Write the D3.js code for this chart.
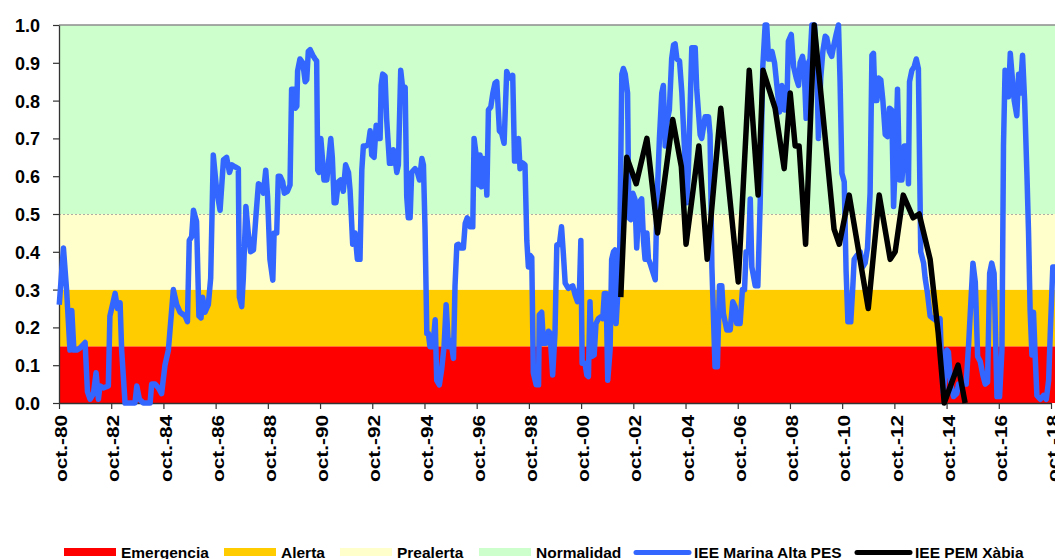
<!DOCTYPE html>
<html>
<head>
<meta charset="utf-8">
<script src="https://cdn.jsdelivr.net/npm/d3@7"></script>
<style>
  body { margin: 0; background: #fff; }
  svg text { font-family: "Liberation Sans", Arial, sans-serif; font-weight: bold; fill: #000; }
</style>
</head>
<body>
<svg id="chart" width="1055" height="559"></svg>
<script>
// ---- data -------------------------------------------------------------
const xTickLabels = ["oct.-80","oct.-82","oct.-84","oct.-86","oct.-88","oct.-90","oct.-92",
  "oct.-94","oct.-96","oct.-98","oct.-00","oct.-02","oct.-04","oct.-06","oct.-08","oct.-10",
  "oct.-12","oct.-14","oct.-16","oct.-18"];
const yTickLabels = ["0.0","0.1","0.2","0.3","0.4","0.5","0.6","0.7","0.8","0.9","1.0"];

const bandNames = ["Emergencia", "Alerta", "Prealerta", "Normalidad"];
const bandFrom = [0, 0.15, 0.3, 0.5];
const bandTo = [0.15, 0.3, 0.5, 1.0];

const seriesNames = ["IEE Marina Alta PES", "IEE PEM Xàbia"];

// [decimal year, index]
const marinaAltaPES = [
  [1980.76,.26],[1980.92,.41],[1981.04,.30],[1981.17,.14],[1981.24,.245],[1981.32,.14],[1981.43,.14],
  [1981.55,.145],[1981.75,.16],[1981.84,.03],[1981.94,.01],[1982.07,.025],[1982.17,.08],[1982.26,.01],
  [1982.32,.045],[1982.45,.04],[1982.64,.045],[1982.70,.23],[1982.90,.29],[1982.99,.25],[1983.09,.265],
  [1983.15,.14],[1983.28,0],[1983.47,0],[1983.66,0],[1983.73,.045],[1983.83,.01],[1983.98,0],[1984.24,0],
  [1984.30,.05],[1984.43,.05],[1984.56,.04],[1984.68,.025],[1984.81,.10],[1984.94,.14],[1985.13,.30],
  [1985.26,.26],[1985.39,.24],[1985.58,.23],[1985.67,.215],[1985.74,.43],[1985.83,.44],[1985.90,.51],
  [1986.02,.48],[1986.11,.23],[1986.19,.225],[1986.25,.28],[1986.34,.24],[1986.47,.26],[1986.56,.33],
  [1986.66,.656],[1986.79,.563],[1986.92,.51],[1987.05,.643],[1987.17,.65],[1987.28,.61],[1987.37,.63],
  [1987.49,.625],[1987.62,.62],[1987.66,.28],[1987.75,.255],[1987.81,.33],[1987.91,.52],[1988.00,.45],
  [1988.09,.40],[1988.20,.405],[1988.30,.50],[1988.39,.58],[1988.49,.575],[1988.58,.555],[1988.67,.616],
  [1988.74,.546],[1988.83,.38],[1988.94,.325],[1988.99,.45],[1989.09,.45],[1989.15,.60],[1989.22,.60],
  [1989.32,.585],[1989.38,.555],[1989.50,.56],[1989.60,.577],[1989.66,.83],[1989.75,.83],[1989.80,.78],
  [1989.86,.785],[1989.89,.878],[1989.98,.91],[1990.09,.90],[1990.18,.85],[1990.24,.855],[1990.30,.93],
  [1990.37,.935],[1990.47,.92],[1990.56,.91],[1990.62,.905],[1990.66,.616],[1990.71,.61],[1990.78,.70],
  [1990.85,.64],[1990.90,.59],[1991.01,.59],[1991.07,.634],[1991.16,.70],[1991.22,.65],[1991.29,.53],
  [1991.36,.53],[1991.45,.585],[1991.54,.59],[1991.64,.56],[1991.73,.63],[1991.84,.61],[1991.90,.563],
  [1992.00,.42],[1992.09,.45],[1992.18,.38],[1992.28,.38],[1992.35,.616],[1992.41,.68],[1992.51,.68],
  [1992.60,.685],[1992.67,.72],[1992.73,.656],[1992.82,.65],[1992.90,.735],[1992.96,.70],[1993.05,.70],
  [1993.09,.84],[1993.15,.87],[1993.24,.865],[1993.30,.753],[1993.41,.634],[1993.50,.634],[1993.56,.67],
  [1993.62,.65],[1993.69,.61],[1993.75,.63],[1993.84,.88],[1993.92,.83],[1994.01,.835],[1994.07,.546],
  [1994.13,.49],[1994.20,.49],[1994.26,.61],[1994.39,.62],[1994.48,.61],[1994.56,.59],[1994.65,.647],
  [1994.71,.63],[1994.77,.466],[1994.84,.184],[1994.90,.184],[1994.96,.149],[1995.07,.149],[1995.16,.22],
  [1995.22,.06],[1995.32,.048],[1995.41,.09],[1995.50,.149],[1995.58,.26],[1995.67,.149],[1995.76,.166],
  [1995.86,.118],[1995.92,.31],[1995.99,.418],[1996.05,.42],[1996.14,.41],[1996.24,.41],[1996.31,.475],
  [1996.39,.49],[1996.50,.466],[1996.60,.466],[1996.65,.70],[1996.73,.656],[1996.82,.577],[1996.88,.656],
  [1996.94,.572],[1997.01,.647],[1997.07,.643],[1997.14,.55],[1997.20,.775],[1997.29,.783],[1997.37,.82],
  [1997.45,.846],[1997.52,.85],[1997.62,.72],[1997.71,.713],[1997.80,.687],[1997.90,.877],[1998.00,.86],
  [1998.07,.86],[1998.13,.867],[1998.20,.64],[1998.29,.64],[1998.35,.70],[1998.41,.62],[1998.51,.635],
  [1998.60,.63],[1998.67,.43],[1998.73,.36],[1998.80,.39],[1998.86,.385],[1998.92,.08],[1999.03,.048],
  [1999.12,.048],[1999.15,.233],[1999.24,.24],[1999.31,.158],[1999.41,.158],[1999.50,.19],[1999.56,.185],
  [1999.66,.074],[1999.75,.185],[1999.82,.418],[1999.92,.42],[2000.00,.466],[2000.07,.395],[2000.14,.317],
  [2000.26,.303],[2000.35,.307],[2000.43,.31],[2000.52,.286],[2000.61,.268],[2000.69,.307],[2000.74,.43],
  [2000.79,.105],[2000.90,.105],[2000.97,.074],[2001.03,.07],[2001.09,.268],[2001.16,.123],[2001.25,.127],
  [2001.32,.21],[2001.41,.223],[2001.50,.228],[2001.58,.223],[2001.64,.29],[2001.71,.29],[2001.77,.06],
  [2001.86,.14],[2001.92,.38],[2001.99,.40],[2002.05,.405],[2002.09,.21],[2002.14,.27],[2002.22,.35],
  [2002.31,.87],[2002.37,.885],[2002.44,.87],[2002.53,.82],[2002.58,.49],[2002.65,.485],[2002.73,.555],
  [2002.81,.54],[2002.88,.41],[2002.97,.53],[2003.07,.54],[2003.14,.43],[2003.20,.38],[2003.27,.45],
  [2003.33,.38],[2003.39,.37],[2003.46,.355],[2003.59,.326],[2003.65,.52],[2003.75,.70],[2003.84,.82],
  [2003.90,.84],[2003.97,.68],[2004.03,.74],[2004.13,.775],[2004.22,.912],[2004.29,.947],[2004.35,.95],
  [2004.42,.91],[2004.52,.905],[2004.61,.82],[2004.70,.687],[2004.80,.53],[2004.86,.62],[2004.99,.94],
  [2005.12,.94],[2005.18,.83],[2005.31,.71],[2005.37,.70],[2005.50,.757],[2005.63,.757],[2005.69,.71],
  [2005.76,.36],[2005.88,.096],[2005.97,.096],[2006.05,.31],[2006.14,.31],[2006.20,.237],[2006.33,.193],
  [2006.46,.193],[2006.56,.268],[2006.65,.255],[2006.71,.21],[2006.84,.21],[2006.93,.30],[2007.01,.30],
  [2007.07,.40],[2007.16,.40],[2007.23,.54],[2007.29,.36],[2007.42,.31],[2007.52,.31],[2007.61,.53],
  [2007.71,.89],[2007.80,1.0],[2007.86,1.0],[2007.93,.91],[2007.99,.91],[2008.06,.93],[2008.16,.90],
  [2008.25,.84],[2008.35,.77],[2008.44,.84],[2008.54,.775],[2008.63,.78],[2008.69,.957],[2008.80,.975],
  [2008.89,.89],[2008.99,.86],[2009.08,.84],[2009.14,.90],[2009.23,.917],[2009.29,.89],[2009.37,.753],
  [2009.46,.90],[2009.52,.91],[2009.59,1.0],[2009.69,1.0],[2009.78,.89],[2009.84,.70],[2009.93,.86],
  [2010.01,.93],[2010.10,.97],[2010.16,.966],[2010.26,.93],[2010.35,.917],[2010.42,.943],[2010.52,.975],
  [2010.61,1.0],[2010.67,.85],[2010.74,.608],[2010.83,.585],[2010.90,.35],[2010.97,.215],[2011.08,.215],
  [2011.16,.31],[2011.21,.38],[2011.31,.39],[2011.44,.40],[2011.54,.36],[2011.63,.37],[2011.72,.41],
  [2011.82,.555],[2011.89,.92],[2011.95,.925],[2012.01,.80],[2012.08,.80],[2012.14,.86],[2012.23,.855],
  [2012.31,.80],[2012.40,.71],[2012.49,.705],[2012.56,.78],[2012.65,.775],[2012.72,.52],[2012.82,.70],
  [2012.87,.83],[2012.95,.59],[2013.04,.59],[2013.13,.68],[2013.23,.68],[2013.29,.58],[2013.33,.85],
  [2013.42,.88],[2013.51,.89],[2013.59,.91],[2013.67,.885],[2013.76,.40],[2013.87,.37],[2013.93,.33],
  [2014.02,.29],[2014.12,.23],[2014.21,.225],[2014.31,.22],[2014.40,.215],[2014.50,.223],[2014.57,.08],
  [2014.63,.025],[2014.76,.14],[2014.82,.135],[2014.91,.05],[2015.02,.017],[2015.14,.025],[2015.21,.05],
  [2015.27,.04],[2015.40,.05],[2015.50,.05],[2015.59,.15],[2015.76,.37],[2015.85,.32],[2015.94,.123],
  [2016.04,.11],[2016.14,.074],[2016.23,.05],[2016.32,.055],[2016.40,.343],[2016.48,.37],[2016.57,.343],
  [2016.68,.017],[2016.78,.017],[2016.87,.14],[2016.93,.68],[2016.99,.88],[2017.06,.875],[2017.12,.81],
  [2017.19,.925],[2017.25,.875],[2017.34,.80],[2017.44,.76],[2017.51,.87],[2017.57,.82],[2017.66,.92],
  [2017.74,.80],[2017.83,.60],[2017.89,.45],[2017.95,.246],[2018.02,.127],[2018.08,.24],[2018.14,.13],
  [2018.21,.02],[2018.34,.01],[2018.46,.02],[2018.57,.01],[2018.66,.06],[2018.72,.18],[2018.82,.36],
  [2018.91,.36]
];

const pemXabia = [
  [2002.27,.28],[2002.50,.65],[2002.86,.58],[2003.27,.70],[2003.68,.45],[2004.26,.75],[2004.59,.625],
  [2004.77,.42],[2005.26,.68],[2005.58,.38],[2006.10,.78],[2006.77,.32],[2007.19,.88],[2007.53,.55],
  [2007.72,.88],[2008.18,.78],[2008.53,.62],[2008.76,.82],[2008.95,.68],[2009.10,.68],[2009.35,.42],
  [2009.68,1.0],[2010.44,.46],[2010.64,.42],[2011.02,.55],[2011.75,.25],[2012.17,.55],[2012.59,.38],
  [2012.78,.40],[2013.09,.55],[2013.47,.49],[2013.70,.50],[2014.12,.38],[2014.43,.185],[2014.66,0],
  [2015.19,.10],[2015.46,0]
];

// ---- layout / style ---------------------------------------------------
const bandColors = ["#FF0000", "#FFCC00", "#FFFFCC", "#CCFFCC"];
const lineColors = ["#3366FF", "#000000"];

const svg = d3.select("#chart");
const plot = {left: 59, right: 1051, top: 25, bottom: 403, edge: 1055};

const tickYears = xTickLabels.map(s => {
  const yy = +s.slice(-2);
  return (yy >= 50 ? 1900 : 2000) + yy + 0.75;
});
const yTicks = yTickLabels.map(Number);

const x = d3.scaleLinear().domain([tickYears[0], tickYears[tickYears.length - 1]])
    .range([plot.left, plot.right]);
const y = d3.scaleLinear().domain([0, 1]).range([plot.bottom, plot.top]);

// background bands
svg.append("g").selectAll("rect")
  .data(bandNames)
  .join("rect")
    .attr("x", plot.left)
    .attr("width", plot.edge - plot.left)
    .attr("y", (d, i) => y(bandTo[i]))
    .attr("height", (d, i) => y(bandFrom[i]) - y(bandTo[i]))
    .attr("fill", (d, i) => bandColors[i]);

// dotted boundary at 0.5 and top border
svg.append("line")
    .attr("x1", plot.left).attr("x2", plot.edge)
    .attr("y1", y(0.5) + 0.5).attr("y2", y(0.5) + 0.5)
    .attr("stroke", "#9a9a9a").attr("stroke-width", 0.8)
    .attr("stroke-dasharray", "2,2");

svg.append("line")
    .attr("x1", plot.left).attr("x2", plot.edge)
    .attr("y1", plot.top).attr("y2", plot.top)
    .attr("stroke", "#8c8c8c").attr("stroke-width", 1.5);

// axes
const yAxis = svg.append("g")
    .attr("transform", `translate(${plot.left},0)`)
    .call(d3.axisLeft(y).tickValues(yTicks).tickFormat((d, i) => yTickLabels[i])
      .tickSize(6).tickPadding(13).tickSizeOuter(0));

yAxis.selectAll("text")
    .style("font-size", "18px")
    .attr("dy", "0.36em");

const xAxis = svg.append("g")
    .attr("transform", `translate(0,${plot.bottom})`)
    .call(d3.axisBottom(x).tickValues(tickYears).tickFormat((d, i) => xTickLabels[i])
      .tickSize(6).tickSizeOuter(0));

xAxis.selectAll("text")
    .style("font-size", "17px")
    .attr("transform", "rotate(-90)")
    .attr("text-anchor", "end")
    .attr("x", -12)
    .attr("y", 0)
    .attr("dy", "0.45em")
    .attr("textLength", 67)
    .attr("lengthAdjust", "spacingAndGlyphs");

[yAxis, xAxis].forEach(g => {
  g.select(".domain").attr("stroke", "#333").attr("stroke-width", 1.3);
  g.selectAll(".tick line").attr("stroke", "#333").attr("stroke-width", 1.2);
});

// series lines
const line = d3.line().x(d => x(d[0])).y(d => y(d[1]));

[marinaAltaPES, pemXabia].forEach((series, i) => {
  svg.append("path")
      .datum(series)
      .attr("fill", "none")
      .attr("stroke", lineColors[i])
      .attr("stroke-width", 5.5)
      .attr("stroke-linejoin", "round")
      .attr("stroke-linecap", "butt")
      .attr("d", line);
});

// legend
const legendX = [64, 224, 340, 479, 636, 857];
const legendItems = bandNames.map((name, i) => ({name, type: "band", color: bandColors[i]}))
  .concat(seriesNames.map((name, i) => ({name, type: "line", color: lineColors[i]})));

const legend = svg.append("g")
  .selectAll("g")
  .data(legendItems)
  .join("g")
    .attr("transform", (d, i) => `translate(${legendX[i]},552)`);

legend.filter(d => d.type === "band").append("rect")
    .attr("x", 0).attr("y", -4)
    .attr("width", 52).attr("height", 8)
    .attr("fill", d => d.color);

legend.filter(d => d.type === "line").append("line")
    .attr("x1", 0).attr("x2", 53)
    .attr("y1", 0.5).attr("y2", 0.5)
    .attr("stroke", d => d.color)
    .attr("stroke-width", 5)
    .attr("stroke-linecap", "round");

legend.append("text")
    .attr("x", d => d.type === "band" ? 57 : 58)
    .attr("y", 5.5)
    .style("font-size", "15.5px")
    .text(d => d.name);
</script>
</body>
</html>
